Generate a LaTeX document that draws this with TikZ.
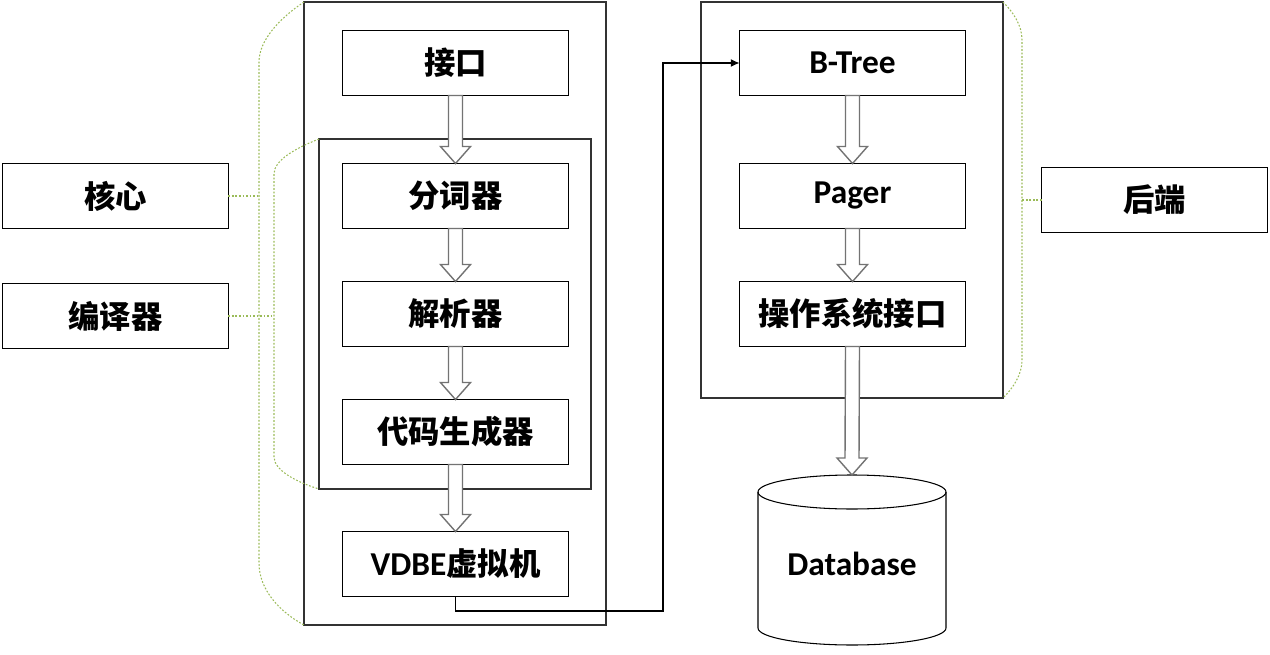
\documentclass[tikz,border=0pt]{standalone}
\usepackage{fontspec}
\setmainfont{Carlito}
\newfontfamily\cjk{Noto Sans CJK SC}[Scale=0.94]
\usetikzlibrary{arrows.meta,calc}

\newcommand\blockarrow[2]{\draw[blockarrow] ($(#1)+(-7,0)$) -- ($(#2)+(-7,-17)$) -- ($(#2)+(-15,-17)$) -- (#2) -- ($(#2)+(15,-17)$) -- ($(#2)+(7,-17)$) -- ($(#1)+(7,0)$) -- cycle;}

\begin{document}
\begin{tikzpicture}[x=0.02cm,y=-0.02cm,
  box/.style={draw=black, fill=white, line width=0.6pt, minimum width=4.54cm-\pgflinewidth, minimum height=1.32cm-\pgflinewidth, outer sep=0pt, font=\fontsize{19}{22}\selectfont\bfseries},
  frame/.style={draw=black!80, line width=0.8pt},
  blockarrow/.style={draw=black!55, fill=white, line width=0.8pt, line join=miter},
  bracket/.style={draw={rgb,255:red,155;green,187;blue,89}, line width=0.6pt, dash pattern=on 1pt off 1pt},
  link/.style={draw=black, line width=0.6pt, -{Latex[length=5pt,width=4.5pt]}}]
\useasboundingbox (0,0) rectangle (1270,655);

\draw[frame] (304,2) rectangle (606,625);
\draw[frame] (319,139) rectangle (591,489);
\draw[frame] (701,2) rectangle (1003,398);

\node[box] (core) at (115.5,196) {\cjk 核心};
\node[box] (comp) at (115.5,316) {\cjk 编译器};
\node[box] (back) at (1154.5,200) {\cjk 后端};

\node[box] (iface) at (455.5,63) {\cjk 接口};
\node[box] (token) at (455.5,196) {\cjk 分词器};
\node[box] (parse) at (455.5,314) {\cjk 解析器};
\node[box] (gen) at (455.5,432) {\cjk 代码生成器};
\node[box] (vdbe) at (455.5,564) {VDBE{\cjk 虚拟机}};

\node[box] (btree) at (852.5,63) {B-Tree};
\node[box] (pager) at (852.5,196) {Pager};
\node[box] (osif) at (852.5,314) {\cjk 操作系统接口};

\draw[draw=black, fill=white, line width=0.6pt] (758,492) -- (758,628) arc[start angle=180, end angle=0, x radius=94, y radius=17] -- (946,492) arc[start angle=0, end angle=-180, x radius=94, y radius=17] -- cycle;
\draw[line width=0.6pt] (758,492) arc[start angle=180, end angle=0, x radius=94, y radius=17];
\node[font=\fontsize{19}{22}\selectfont\bfseries] (db) at (852,564) {Database};
\coordinate (dbtop) at (852,475);

\blockarrow{iface.south}{token.north}
\blockarrow{token.south}{parse.north}
\blockarrow{parse.south}{gen.north}
\blockarrow{gen.south}{vdbe.north}
\blockarrow{btree.south}{pager.north}
\blockarrow{pager.south}{osif.north}
\blockarrow{osif.south}{dbtop}

\coordinate (turn) at (663,611);
\draw[link] (vdbe.south) |- (turn) |- (btree.west);

\coordinate (coretip) at (259,196);
\coordinate (comptip) at (274,316);
\coordinate (backtip) at (1022,200);
\draw[bracket] (304,2) .. controls (280,18) and (259,40) .. (259,62) -- (259,563) .. controls (259,590) and (280,612) .. (304,625);
\draw[bracket] (core.east) -- (coretip);
\draw[bracket] (319,139) .. controls (296,148) and (274,160) .. (274,174) -- (274,457) .. controls (274,470) and (296,482) .. (319,489);
\draw[bracket] (comp.east) -- (comptip);
\draw[bracket] (1003,2) .. controls (1013,12) and (1022,25) .. (1022,40) -- (1022,360) .. controls (1022,375) and (1013,388) .. (1003,398);
\draw[bracket] (back.west) -- (backtip);
\end{tikzpicture}
\end{document}
